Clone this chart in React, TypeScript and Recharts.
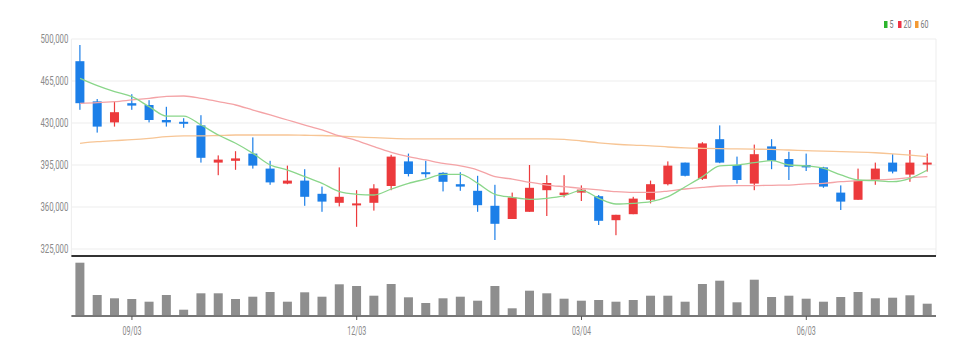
import React from "react";
import {
  ComposedChart,
  BarChart,
  Bar,
  Line,
  XAxis,
  YAxis,
  CartesianGrid,
} from "recharts";

// weekly candles, Aug 2018 - Jul 2019
const dates = [
  "08/13", "08/20", "08/27", "09/03", "09/10", "09/17", "09/24", "10/01", "10/08", "10/15",
  "10/22", "10/29", "11/05", "11/12", "11/19", "11/26", "12/03", "12/10", "12/17", "12/24",
  "12/31", "01/07", "01/14", "01/21", "01/28", "02/04", "02/11", "02/18", "02/25", "03/04",
  "03/11", "03/18", "03/25", "04/01", "04/08", "04/15", "04/22", "04/29", "05/06", "05/13",
  "05/20", "05/27", "06/03", "06/10", "06/17", "06/24", "07/01", "07/08", "07/15", "07/22",
];

const open = [
  481500, 448000, 430500, 446500, 445000, 432500, 431000, 428000, 397000, 398500,
  404500, 392000, 379500, 382000, 371000, 363500, 361500, 363500, 377500, 398000,
  389000, 388500, 379000, 373500, 361000, 350000, 356000, 374000, 370000, 372000,
  369000, 349000, 354000, 366000, 379000, 397000, 383500, 416500, 395000, 379500,
  410500, 400000, 395000, 393000, 372000, 366000, 382500, 397000, 387000, 395500,
];
const high = [
  495000, 450000, 448000, 454000, 449000, 443500, 434000, 436500, 403000, 406500,
  418000, 398500, 394500, 391500, 377000, 393000, 374000, 379000, 403500, 404500,
  398500, 389000, 389000, 386000, 378500, 372000, 395000, 386500, 386500, 378000,
  370000, 353500, 368500, 382000, 398000, 397000, 414000, 428000, 402000, 412000,
  416500, 406000, 404500, 393500, 378000, 392000, 397000, 404000, 407500, 404500,
];
const low = [
  441000, 422000, 427000, 441000, 430500, 427000, 426000, 397000, 386500, 391000,
  392000, 378500, 379000, 361000, 356000, 360500, 343500, 357000, 374000, 385500,
  384500, 373000, 373500, 356000, 332500, 350000, 356000, 352500, 368000, 365000,
  345000, 336500, 354000, 363000, 378000, 385500, 382500, 396500, 379500, 374000,
  391500, 382500, 390000, 376000, 357500, 366000, 378500, 388000, 381000, 389500,
];
const close = [
  446500, 427000, 439000, 444500, 432500, 430500, 429500, 401000, 399500, 400500,
  394500, 380500, 382000, 368500, 364500, 368500, 363000, 375500, 402000, 387500,
  388000, 381000, 377000, 361500, 346000, 368000, 376000, 380000, 372000, 374500,
  348500, 353500, 367000, 379000, 394500, 386000, 413000, 397000, 382500, 404000,
  398500, 393500, 393000, 377000, 364500, 382000, 392000, 389500, 397000, 397000,
];

const volume = [
  266500, 105000, 88500, 85000, 71500, 105000, 31500, 113500, 113500, 85000,
  96500, 120000, 71500, 118500, 96500, 158500, 150000, 101500, 160000, 93500,
  65000, 88500, 96500, 76500, 150000, 38500, 126500, 113500, 86500, 76500,
  80000, 71500, 80000, 101500, 101500, 71500, 160000, 176500, 68500, 181500,
  95000, 101500, 86500, 71500, 95000, 120000, 88500, 91500, 103500, 61500,
];

const ma5 = [
  467200, 461100, 456100, 451900, 443600, 435800, 435800, 428300, 420000, 413100,
  404700, 395000, 390800, 385300, 379700, 372800, 370600, 370000, 375000, 379700,
  383300, 387200, 387200, 379700, 370600, 368100, 366400, 367200, 369400, 373900,
  367200, 362500, 363100, 364400, 368600, 376900, 385300, 394200, 395000, 396900,
  398600, 395000, 394200, 392200, 386700, 382500, 381900, 381100, 383900, 390800,
];
const ma20 = [
  446400, 446900, 447800, 449200, 450600, 452200, 452500, 450600, 447800, 445000,
  440800, 436700, 432500, 428300, 424200, 419200, 415400, 410300, 405600, 401900,
  399200, 396400, 394200, 390800, 385300, 383300, 380600, 378300, 376900, 375600,
  374200, 372800, 372200, 372200, 373300, 375000, 376400, 377500, 377800, 377800,
  378100, 378300, 379200, 379700, 381100, 381900, 382500, 383300, 384400, 385300,
];
const ma60 = [
  413100, 414400, 415300, 416100, 417200, 418600, 419200, 419200, 419600, 420000,
  420000, 420000, 420000, 419800, 419600, 419000, 418400, 417800, 417200, 416800,
  416700, 416700, 416700, 416700, 416700, 416700, 416700, 416700, 416400, 415000,
  413500, 412300, 411500, 411000, 410000, 409300, 408900, 408600, 408400, 408200,
  408000, 407500, 407000, 406500, 406200, 405800, 405200, 404300, 403200, 401900,
];

const tickDates = ["09/03", "12/03", "03/04", "06/03"];
const priceTicks = [325000, 360000, 395000, 430000, 465000, 500000];

const UP = "#ec3a3c";
const DOWN = "#1c7fe8";

const rows = dates.map((date, i) => ({
  date,
  open: open[i],
  high: high[i],
  low: low[i],
  close: close[i],
  range: [low[i], high[i]],
  vol: volume[i],
  ma5: ma5[i],
  ma20: ma20[i],
  ma60: ma60[i],
}));

function Candle(props: any) {
  const { x, y, width, height, payload } = props;
  const { open, close, high, low } = payload;
  const span = high - low || 1;
  const toY = (v: number) => y + ((high - v) / span) * height;
  const cx = x + width / 2;
  const top = toY(Math.max(open, close));
  const bot = toY(Math.min(open, close));
  const color = close >= open ? UP : DOWN;
  return (
    <g>
      <rect x={cx - 0.6} y={y} width={1.2} height={Math.max(height, 1)} fill={color} />
      <rect x={x} y={top} width={width} height={Math.max(bot - top, 2)} fill={color} />
    </g>
  );
}

const PriceTick = ({ x, y, payload }: any) => (
  <text
    x={x}
    y={y}
    dy={4}
    textAnchor="end"
    fontSize={12}
    fill="#8a8a8a"
    textLength={28}
    lengthAdjust="spacingAndGlyphs"
  >
    {Number(payload.value).toLocaleString("en-US")}
  </text>
);

const DateTick = ({ x, y, payload }: any) => (
  <text
    x={x}
    y={y}
    dy={13}
    textAnchor="middle"
    fontSize={12}
    fill="#8a8a8a"
    textLength={19}
    lengthAdjust="spacingAndGlyphs"
  >
    {payload.value}
  </text>
);

const legendItems = [
  { label: "5", color: "#2db52d" },
  { label: "20", color: "#ee3344" },
  { label: "60", color: "#f39a34" },
];

export default function App() {
  return (
    <div
      style={{
        position: "absolute",
        left: 0,
        top: 0,
        width: 976,
        height: 355,
        background: "#fff",
        fontFamily: "Roboto, sans-serif",
      }}
    >
      <svg width={60} height={14} style={{ position: "absolute", left: 882, top: 18 }}>
        {legendItems.map((it, i) => {
          const x0 = [2, 16, 33][i];
          return (
            <g key={it.label}>
              <rect x={x0} y={3} width={3.5} height={7} fill={it.color} />
              <text
                x={x0 + 5.5}
                y={10}
                fontSize={10}
                fill="#777"
                textLength={it.label.length * 4}
                lengthAdjust="spacingAndGlyphs"
              >
                {it.label}
              </text>
            </g>
          );
        })}
      </svg>

      <div style={{ position: "absolute", left: 0, top: 0 }}>
        <ComposedChart
          width={976}
          height={262}
          data={rows}
          margin={{ top: 39, right: 40, bottom: 0, left: 0 }}
        >
          <CartesianGrid stroke="#ededed" strokeWidth={1} />
          <XAxis
            dataKey="date"
            ticks={tickDates}
            interval={0}
            height={6}
            tick={false}
            tickLine={false}
            axisLine={{ stroke: "#333", strokeWidth: 2 }}
          />
          <YAxis
            width={71.4}
            domain={[319167, 500000]}
            ticks={priceTicks}
            axisLine={false}
            tickLine={false}
            tickSize={0}
            tickMargin={3}
            tick={<PriceTick />}
            allowDataOverflow
          />
          <Bar dataKey="range" barSize={9} shape={<Candle />} isAnimationActive={false} />
          <Line type="monotone" dataKey="ma60" stroke="#f7c595" strokeWidth={1.3} dot={false} isAnimationActive={false} />
          <Line type="monotone" dataKey="ma20" stroke="#f4a3a6" strokeWidth={1.3} dot={false} isAnimationActive={false} />
          <Line type="monotone" dataKey="ma5" stroke="#8ad68a" strokeWidth={1.3} dot={false} isAnimationActive={false} />
        </ComposedChart>
      </div>

      <div style={{ position: "absolute", left: 0, top: 262 }}>
        <BarChart
          width={976}
          height={93}
          data={rows}
          margin={{ top: 0, right: 40, bottom: 0, left: 71.4 }}
        >
          <XAxis
            dataKey="date"
            ticks={tickDates}
            interval={0}
            height={39}
            tickSize={4}
            tickMargin={2}
            tickLine={{ stroke: "#555" }}
            axisLine={{ stroke: "#777", strokeWidth: 2 }}
            tick={<DateTick />}
          />
          <YAxis hide domain={[0, 270000]} />
          <Bar dataKey="vol" barSize={9} fill="#8e8e8e" isAnimationActive={false} />
        </BarChart>
      </div>
    </div>
  );
}
